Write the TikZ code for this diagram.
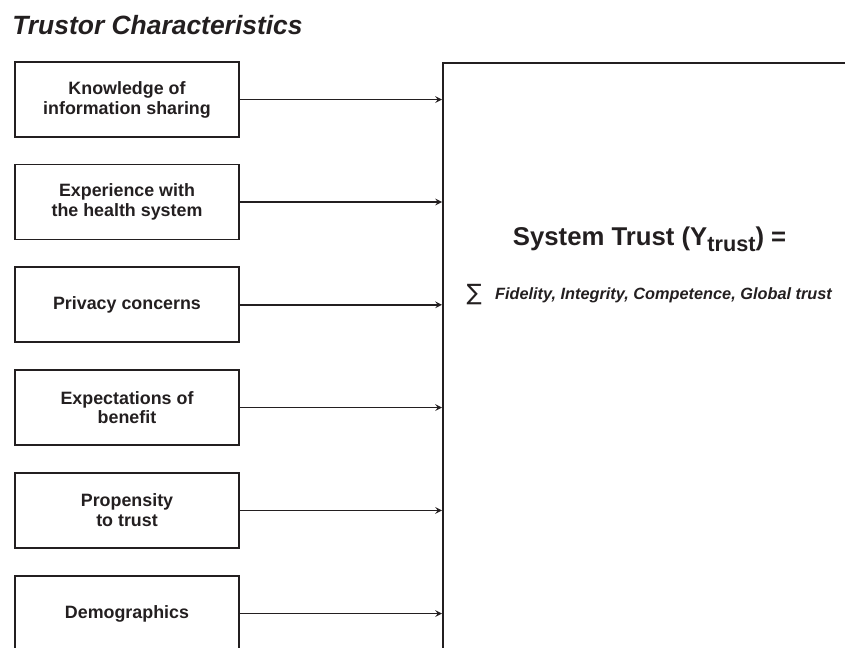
\documentclass[tikz,border=0pt]{standalone}
\usepackage{fontspec}
\setmainfont{Liberation Sans}
\newfontfamily\symfont{DejaVu Sans}
\definecolor{ink}{HTML}{231F20}
\begin{document}
\begin{tikzpicture}[font=\bfseries, color=ink, line join=miter,
	factor/.style={draw, line width=1.4pt, minimum width=5.6cm, minimum height=1.875cm, align=center, inner sep=0pt, font=\fontsize{12.7pt}{14.2pt}\selectfont\bfseries},
	feed/.style={->, >=stealth, line width=1.1pt}]
	\useasboundingbox (0, 0) rectangle (21.125, -16.2);
	\clip (0, 0) rectangle (21.125, -16.2);

	% Titel
	\node[anchor=base west, inner sep=0pt, font=\fontsize{18.8pt}{22pt}\selectfont\bfseries\itshape] (title) at (0.3, -0.875) {Trustor Characteristics};

	% Einflussfaktoren
	\node[factor] (know) at (3.175, -2.49) {Knowledge of\\information sharing};
	\node[factor] (exp) at (3.175, -5.05) {Experience with\\the health system};
	\node[factor] (priv) at (3.175, -7.62) {Privacy concerns};
	\node[factor] (bene) at (3.175, -10.19) {Expectations of\\benefit};
	\node[factor] (prop) at (3.175, -12.76) {Propensity\\to trust};
	\node[factor] (demo) at (3.175, -15.34) {Demographics};

	% Systemvertrauen
	\node[draw, line width=1.4pt, anchor=north west, minimum width=12cm, minimum height=16cm] (trust) at (11.05, -1.55) {};
	\node[anchor=base, inner sep=0pt, font=\fontsize{18.3pt}{22pt}\selectfont\bfseries] (ytrust) at (16.24, -6.15) {System Trust (Y\raisebox{-0.14cm}{\fontsize{15.4pt}{18pt}\selectfont trust}) =};
	\node[anchor=base west, inner sep=0pt, font=\fontsize{16pt}{20pt}\selectfont\symfont] (sum) at (11.66, -7.5) {∑};
	\node[anchor=base west, inner sep=0pt, font=\fontsize{11.6pt}{14pt}\selectfont\bfseries\itshape] (dims) at (12.37, -7.475) {Fidelity, Integrity, Competence, Global trust};

	\foreach \f in {know, exp, priv, bene, prop, demo}
		\draw[feed] (\f.east) -- (\f.east -| trust.west);
\end{tikzpicture}
\end{document}
